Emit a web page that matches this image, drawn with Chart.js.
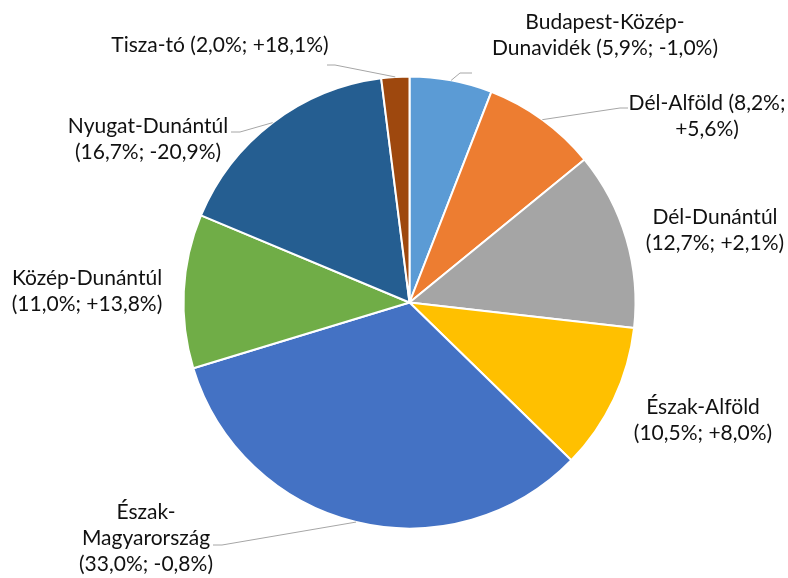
<!DOCTYPE html>
<html>
<head>
<meta charset="utf-8">
<script src="https://cdn.jsdelivr.net/npm/chart.js@4/dist/chart.umd.min.js"></script>
<style>
  body { margin: 0; background: #fff; }
  #wrap { width: 788px; height: 578px; }
</style>
</head>
<body>
<div id="wrap"><canvas id="pie-chart"></canvas></div>
<script>
// regions, share of total (%) and change (%)
var regions = ['Budapest-Közép-Dunavidék', 'Dél-Alföld', 'Dél-Dunántúl', 'Észak-Alföld',
  'Észak-Magyarország', 'Közép-Dunántúl', 'Nyugat-Dunántúl', 'Tisza-tó'];
var shares = [5.9, 8.2, 12.7, 10.5, 33.0, 11.0, 16.7, 2.0];
var changes = [-1.0, 5.6, 2.1, 8.0, -0.8, 13.8, -20.9, 18.1];
var colors = ['#5B9BD5', '#ED7D31', '#A5A5A5', '#FFC000', '#4472C4', '#70AD47', '#255E91', '#9E480E'];

// label placement, offsets from the pie centre (px); rows = tokens per line
var labelLayout = [
  { dx: 195.5, dy: -280.5, rows: [2, 3], leader: [[50.5, -229.5], [62.5, -229.5]] },
  { dx: 297.5, dy: -199.5, rows: [3, 1], leader: [[210.5, -194.5], [218.5, -194.5]] },
  { dx: 305.5, dy: -85.5, rows: [2, 2] },
  { dx: 293.5, dy: 104.5, rows: [2, 2] },
  { dx: -263.5, dy: 209.5, rows: [1, 1, 2], leader: [[-187.5, 242.5], [-196.5, 242.5]] },
  { dx: -322.5, dy: -24.5, rows: [2, 2] },
  { dx: -261.5, dy: -176.5, rows: [2, 2], leader: [[-169.5, -170.5], [-178.5, -170.5]] },
  { dx: -189.5, dy: -257.5, rows: [4], leader: [[-74.5, -237.5], [-82.5, -237.5]] }
];

function fmt(v, sign) {
  var s = v.toFixed(1).replace('.', ',');
  return (sign && v > 0 ? '+' : '') + s;
}

function labelLines(i) {
  var text = regions[i] + ' (' + fmt(shares[i]) + '%; ' + fmt(changes[i], true) + '%)';
  var tokens = text.split(/(?<=\p{L}-|\s)/u);
  var lines = [], k = 0;
  labelLayout[i].rows.forEach(function(n){
    lines.push(tokens.slice(k, k + n).join('').trim());
    k += n;
  });
  return lines;
}

var pieLabels = {
  id: 'pieLabels',
  afterDatasetsDraw: function(chart){
    var ctx = chart.ctx;
    var arcs = chart.getDatasetMeta(0).data;
    ctx.save();
    arcs.forEach(function(arc, i){
      var lay = labelLayout[i];
      var cx = arc.x, cy = arc.y;
      if (lay.leader) {
        var mid = (arc.startAngle + arc.endAngle) / 2;
        var r = arc.outerRadius;
        ctx.beginPath();
        ctx.strokeStyle = '#A6A6A6';
        ctx.lineWidth = 1;
        ctx.moveTo(cx + Math.cos(mid) * r, cy + Math.sin(mid) * r);
        lay.leader.forEach(function(p){ ctx.lineTo(cx + p[0], cy + p[1]); });
        ctx.stroke();
      }
      ctx.fillStyle = '#111111';
      ctx.font = '21px Lato';
      ctx.textAlign = 'center';
      ctx.textBaseline = 'middle';
      labelLines(i).forEach(function(line, j){
        ctx.fillText(line, cx + lay.dx, cy + lay.dy + j * 26);
      });
    });
    ctx.restore();
  }
};

var ctx = document.getElementById('pie-chart').getContext('2d');
var myChart = new Chart(ctx, {
  type: 'pie',
  data: {
    labels: regions,
    datasets: [{
      data: shares,
      backgroundColor: colors,
      borderColor: '#ffffff',
      borderWidth: 2
    }]
  },
  options: {
    responsive: true,
    maintainAspectRatio: false,
    animation: false,
    layout: {
      padding: { left: 182.5, right: 151.5, top: 75, bottom: 48 }
    },
    plugins: {
      legend: { display: false },
      tooltip: { enabled: false }
    }
  },
  plugins: [pieLabels]
});
</script>
</body>
</html>
